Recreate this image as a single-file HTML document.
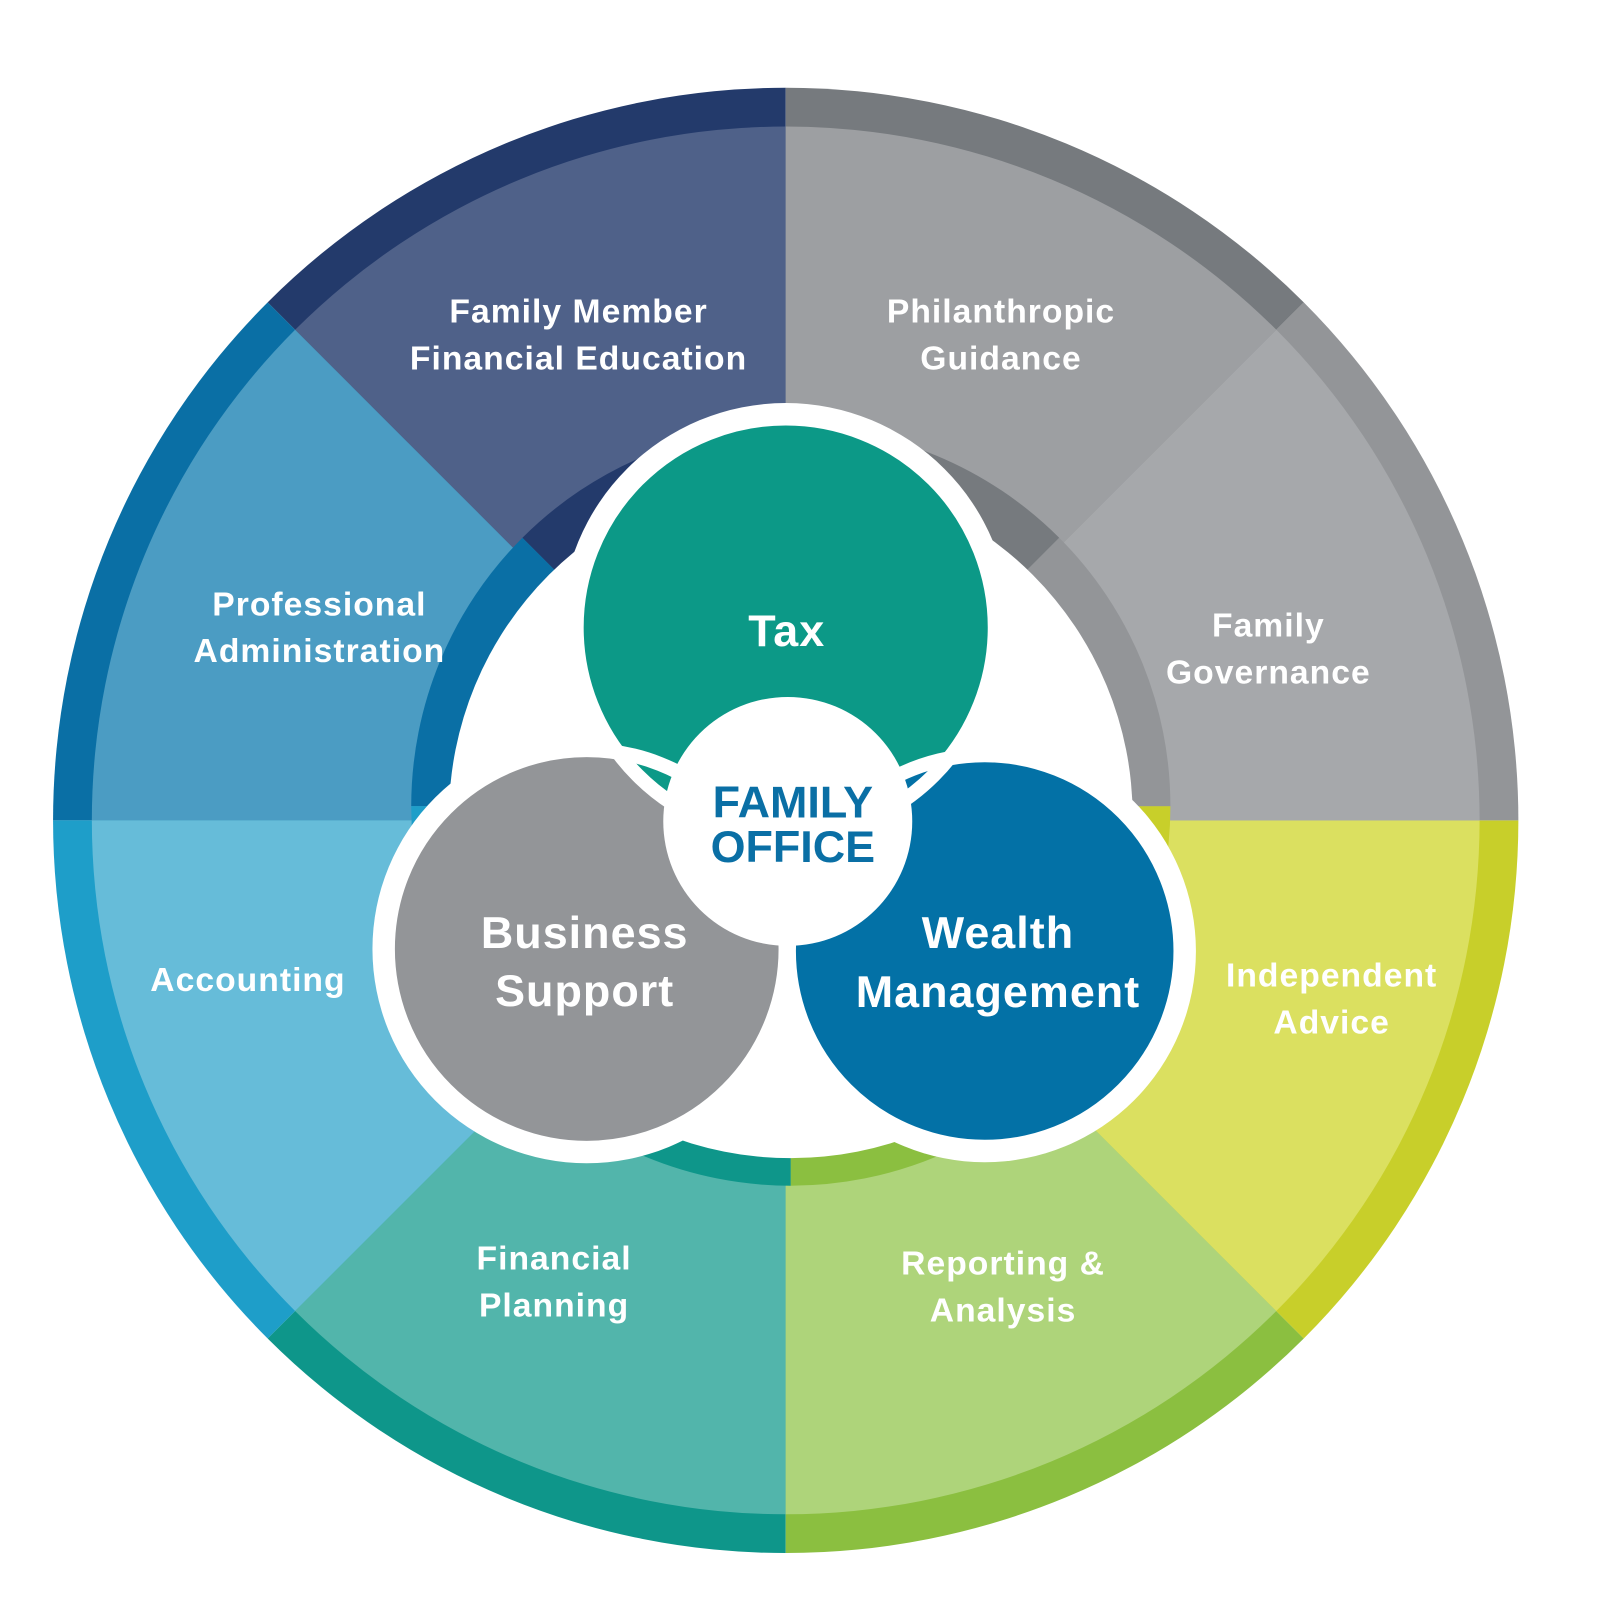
<!DOCTYPE html>
<html><head><meta charset="utf-8"><style>
html,body{margin:0;padding:0;background:#fff;}
svg{display:block;}
text{font-family:"Liberation Sans",sans-serif;font-weight:bold;fill:#fff;text-anchor:middle;letter-spacing:1px;}
</style></head><body>
<svg width="1600" height="1600" viewBox="0 0 1568 1568" xmlns="http://www.w3.org/2000/svg">
<defs>
<clipPath id="taxc"><circle cx="770" cy="615" r="205"/></clipPath>
</defs>
<path d="M770 804 L770 86 A718 718 0 0 0 262.3 296.3Z" fill="#233a6b"/>
<path d="M770 804 L262.3 296.3 A718 718 0 0 0 52 804Z" fill="#0a6fa5"/>
<path d="M770 804 L52 804 A718 718 0 0 0 262.3 1311.7Z" fill="#1e9ec9"/>
<path d="M770 804 L262.3 1311.7 A718 718 0 0 0 770 1522Z" fill="#0e968a"/>
<path d="M770 804 L770 1522 A718 718 0 0 0 1277.7 1311.7Z" fill="#8bbf40"/>
<path d="M770 804 L1277.7 1311.7 A718 718 0 0 0 1488 804Z" fill="#c8cf2a"/>
<path d="M770 804 L1488 804 A718 718 0 0 0 1277.7 296.3Z" fill="#939598"/>
<path d="M770 804 L1277.7 296.3 A718 718 0 0 0 770 86Z" fill="#767a7e"/>
<path d="M770 804 L770 124 A680 680 0 0 0 289.2 323.2Z" fill="#4f6189"/>
<path d="M770 804 L289.2 323.2 A680 680 0 0 0 90 804Z" fill="#4b9cc3"/>
<path d="M770 804 L90 804 A680 680 0 0 0 289.2 1284.8Z" fill="#66bcd9"/>
<path d="M770 804 L289.2 1284.8 A680 680 0 0 0 770 1484Z" fill="#52b5ab"/>
<path d="M770 804 L770 1484 A680 680 0 0 0 1250.8 1284.8Z" fill="#aed47a"/>
<path d="M770 804 L1250.8 1284.8 A680 680 0 0 0 1450 804Z" fill="#dbe060"/>
<path d="M770 804 L1450 804 A680 680 0 0 0 1250.8 323.2Z" fill="#a6a8ab"/>
<path d="M770 804 L1250.8 323.2 A680 680 0 0 0 770 124Z" fill="#9d9fa2"/>
<path d="M775 790 L775 418 A372 372 0 0 0 512 527Z" fill="#233a6b"/>
<path d="M775 790 L512 527 A372 372 0 0 0 403 790Z" fill="#0a6fa5"/>
<path d="M775 790 L403 790 A372 372 0 0 0 512 1053Z" fill="#1e9ec9"/>
<path d="M775 790 L512 1053 A372 372 0 0 0 775 1162Z" fill="#0e968a"/>
<path d="M775 790 L775 1162 A372 372 0 0 0 1038 1053Z" fill="#8bbf40"/>
<path d="M775 790 L1038 1053 A372 372 0 0 0 1147 790Z" fill="#c8cf2a"/>
<path d="M775 790 L1147 790 A372 372 0 0 0 1038 527Z" fill="#939598"/>
<path d="M775 790 L1038 527 A372 372 0 0 0 775 418Z" fill="#767a7e"/>
<circle cx="775" cy="800" r="335" fill="#fff"/>
<circle cx="770" cy="615" r="220" fill="#fff"/>
<circle cx="575" cy="930" r="210" fill="#fff"/>
<circle cx="965" cy="932" r="207" fill="#fff"/>
<circle cx="965" cy="932" r="192" fill="#0371a6"/>
<circle cx="575" cy="930" r="195" fill="#939598"/>
<circle cx="770" cy="615" r="205" fill="#0c9987"/>
<circle cx="965" cy="932" r="192" fill="#0371a6" clip-path="url(#taxc)"/>
<g fill="none" stroke="#fff" stroke-width="14">
<circle cx="965" cy="932" r="192"/>
<circle cx="575" cy="930" r="195"/>
<circle cx="770" cy="615" r="205"/>
</g>
<circle cx="772" cy="805" r="122" fill="#fff"/>
<g font-size="33">
<text x="567" y="316">Family Member</text>
<text x="567" y="362">Financial Education</text>
<text x="981" y="316">Philanthropic</text>
<text x="981" y="362">Guidance</text>
<text x="313" y="603">Professional</text>
<text x="313" y="649">Administration</text>
<text x="1243" y="624">Family</text>
<text x="1243" y="670">Governance</text>
<text x="243" y="971">Accounting</text>
<text x="1305" y="967">Independent</text>
<text x="1305" y="1013">Advice</text>
<text x="543" y="1244">Financial</text>
<text x="543" y="1290">Planning</text>
<text x="983" y="1249">Reporting &amp;</text>
<text x="983" y="1295">Analysis</text>
</g>
<g font-size="44">
<text x="771" y="633">Tax</text>
<text x="573" y="929">Business</text>
<text x="573" y="986">Support</text>
<text x="978" y="929">Wealth</text>
<text x="978" y="987">Management</text>
</g>
<g font-size="44">
<text x="777" y="801" style="fill:#0a6fa5;letter-spacing:0">FAMILY</text>
<text x="777" y="845" style="fill:#0a6fa5;letter-spacing:0">OFFICE</text>
</g>
</svg>
</body></html>
